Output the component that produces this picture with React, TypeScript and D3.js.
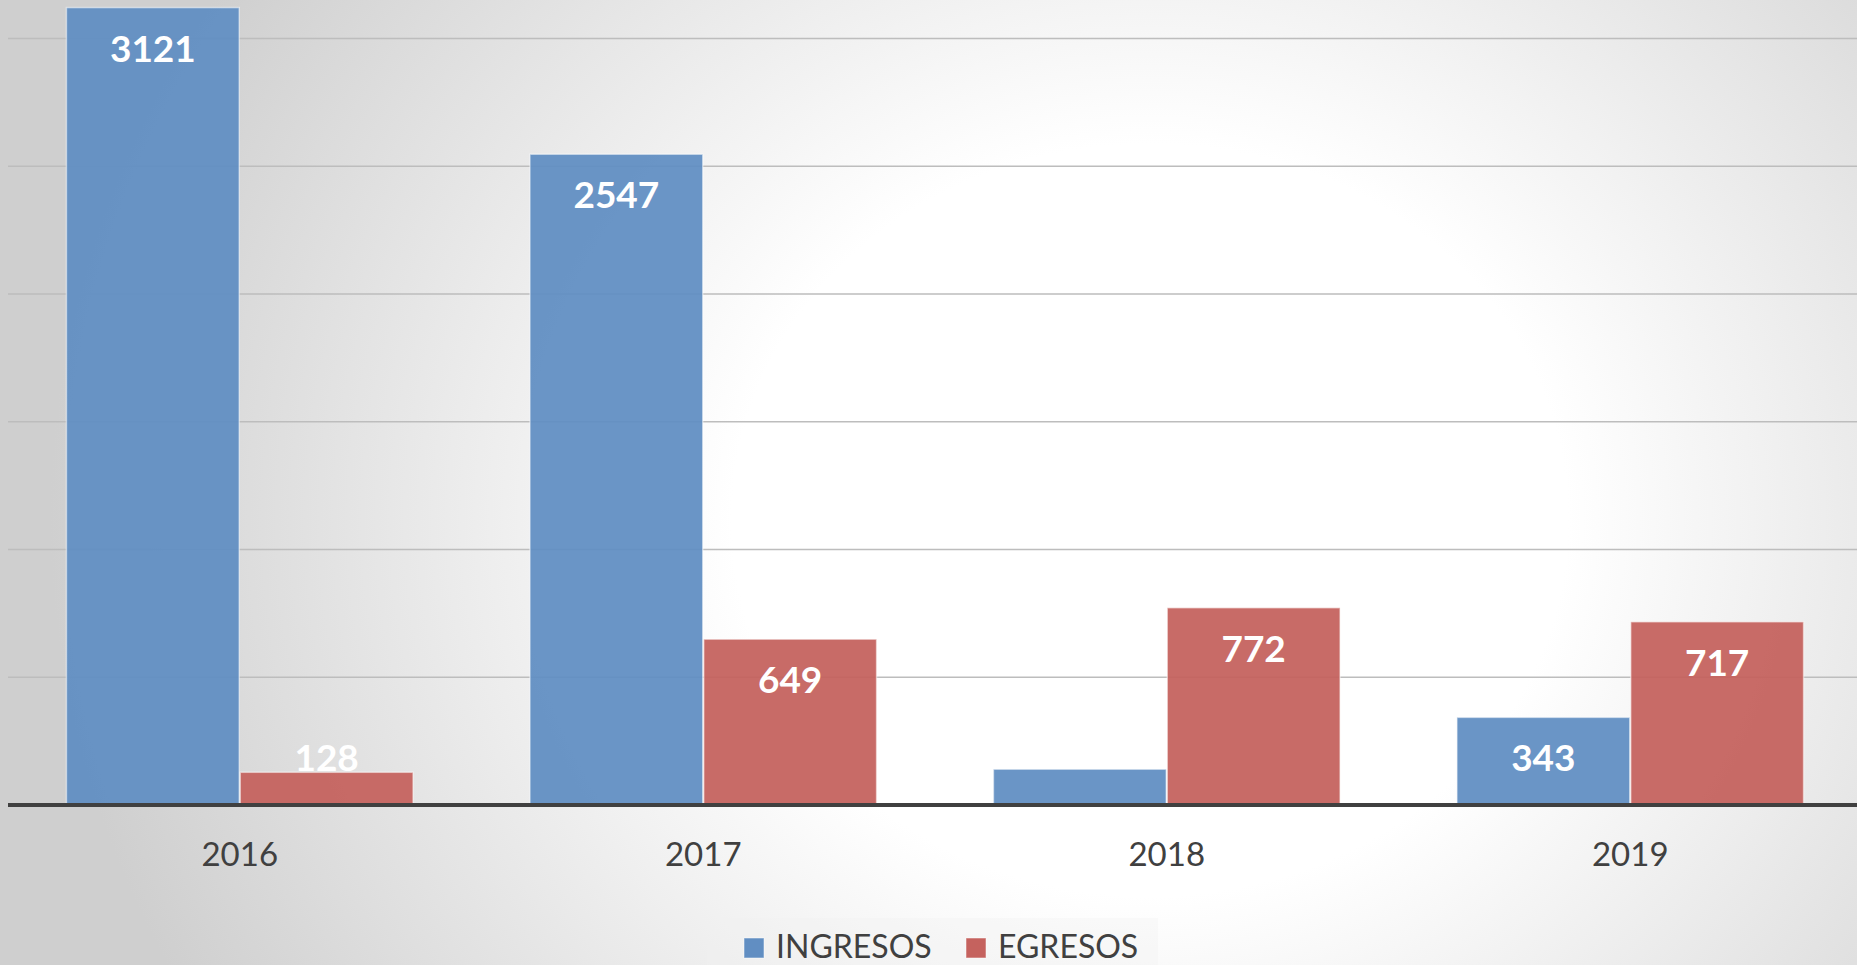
import React, { useEffect } from "react";
import * as d3 from "d3";

const years = ["2016", "2017", "2018", "2019"];
const series = ["INGRESOS", "EGRESOS"];
const ingresos = [3121, 2547, 140, 343];
const egresos = [128, 649, 772, 717];
const gridTicks = [0, 500, 1000, 1500, 2000, 2500, 3000];
const colors = ["#618ec2", "#c5625e"];

const W = 1857;
const H = 965;
const FONT = "Lato, 'Open Sans', sans-serif";

export default function App() {
  useEffect(() => {
    document.body.style.margin = "0";
    document.body.style.overflow = "hidden";
  }, []);

  const x0 = d3.scaleBand<string>().domain(years).range([8, 1862]).paddingInner(0.25).paddingOuter(0.125);
  const x1 = d3.scaleBand<string>().domain(series).range([0, x0.bandwidth()]).padding(0);
  const y = d3.scaleLinear().domain([0, 3000]).range([805, 38.5]);

  const values = [ingresos, egresos];

  return (
    <svg width={W} height={H} style={{ position: "absolute", left: 0, top: 0, display: "block" }}>
      <defs>
        <radialGradient id="bg" gradientUnits="userSpaceOnUse" cx={1150} cy={520} r={1100}
          gradientTransform="translate(1150,520) scale(1,0.9) translate(-1150,-520)">
          <stop offset="0" stopColor="#ffffff" />
          <stop offset="0.38" stopColor="#ffffff" />
          <stop offset="1" stopColor="#cfcfcf" />
        </radialGradient>
      </defs>
      <rect x={0} y={0} width={W} height={H} fill="url(#bg)" />
      {gridTicks.slice(1).map((t) => (
        <line key={t} x1={8} x2={W} y1={y(t)} y2={y(t)} stroke="#bdbdbd" strokeWidth={1.3} />
      ))}
      {years.map((yr, i) => (
        <g key={yr} transform={`translate(${x0(yr)},0)`}>
          {series.map((s, si) => {
            const v = values[si][i];
            const top = y(v);
            const h = y(0) - top;
            const bx = x1(s)!;
            const bw = x1.bandwidth();
            const baseline = h > 60 ? top + 54 : top - 1;
            return (
              <g key={s}>
                <rect x={bx + 0.5} y={top} width={bw - 1} height={h} fill={colors[si]} fillOpacity={0.94}
                  stroke="#ffffff" strokeOpacity={0.5} strokeWidth={1.5} />
                <text x={bx + bw / 2} y={baseline} textAnchor="middle" fill="#ffffff"
                  fontFamily={FONT} fontWeight={700} fontSize={37}>{v}</text>
              </g>
            );
          })}
        </g>
      ))}
      <line x1={8} x2={W} y1={y(0)} y2={y(0)} stroke="#404040" strokeWidth={4} />
      {years.map((yr) => (
        <text key={yr} x={x0(yr)! + x0.bandwidth() / 2} y={866} textAnchor="middle" fill="#404040"
          fontFamily={FONT} fontSize={33}>{yr}</text>
      ))}
      <rect x={707} y={918} width={451} height={60} fill="#f0f0f0" fillOpacity={0.35} />
      {series.map((s, si) => {
        const lx = [744, 966][si];
        return (
          <g key={s}>
            <rect x={lx} y={938} width={20} height={20} fill={colors[si]} stroke="#ffffff" strokeOpacity={0.5} />
            <text x={lx + 32} y={958} fill="#404040" fontFamily={FONT} fontSize={32}>{s}</text>
          </g>
        );
      })}
    </svg>
  );
}
